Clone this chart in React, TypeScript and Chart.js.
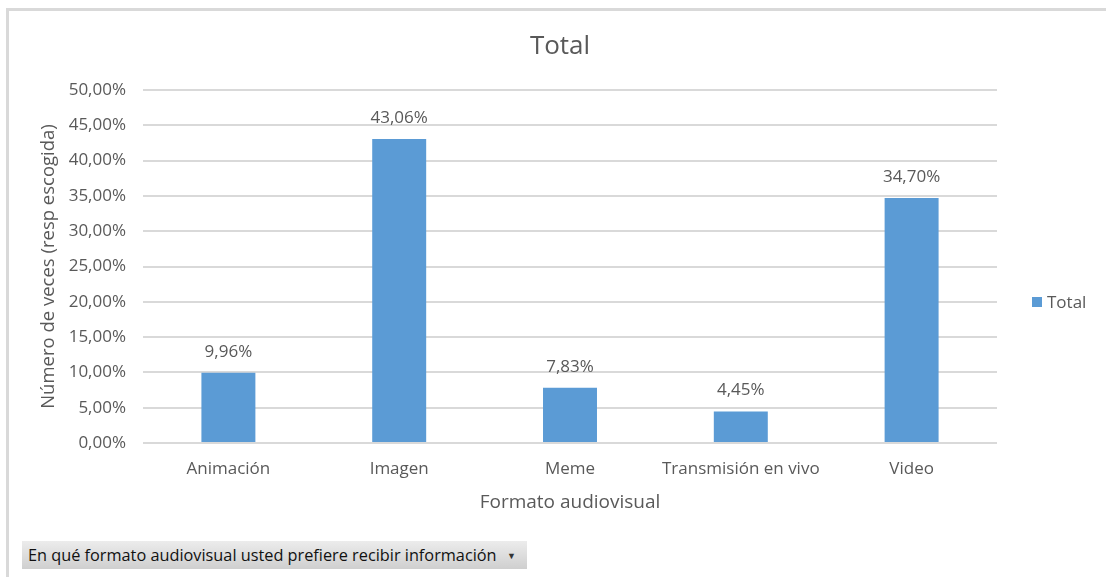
import React, { useEffect, useRef } from "react";
import { Chart, registerables } from "chart.js";

Chart.register(...registerables);

const categories = ["Animación", "Imagen", "Meme", "Transmisión en vivo", "Video"];
const totalValues = [9.96, 43.06, 7.83, 4.45, 34.7];
const seriesName = "Total";
const chartTitle = "Total";
const xTitle = "Formato audiovisual";
const yTitle = "Número de veces (resp escogida)";
const filterLabel = "En qué formato audiovisual usted prefiere recibir información";

const FONT = "'Open Sans', 'Noto Sans', sans-serif";
const GRAY = "#595959";
const BAR = "#5b9bd5";

const fmt = (v: number) => v.toFixed(2).replace(".", ",") + "%";

const dataLabelPlugin = {
  id: "dataLabels",
  afterDatasetsDraw(chart: any) {
    const ctx = chart.ctx;
    const meta = chart.getDatasetMeta(0);
    ctx.save();
    ctx.fillStyle = GRAY;
    ctx.font = `17px ${FONT}`;
    ctx.textAlign = "center";
    ctx.textBaseline = "middle";
    meta.data.forEach((el: any, i: number) => {
      ctx.fillText(fmt(chart.data.datasets[0].data[i]), el.x, el.y - 21);
    });
    ctx.restore();
  },
};

export default function App() {
  const ref = useRef<HTMLCanvasElement>(null);
  useEffect(() => {
    document.body.style.margin = "0";
    const chart = new Chart(ref.current!, {
      type: "bar",
      data: {
        labels: categories,
        datasets: [
          {
            label: seriesName,
            data: totalValues,
            backgroundColor: BAR,
            barPercentage: 0.316,
            categoryPercentage: 1,
          },
        ],
      },
      plugins: [dataLabelPlugin],
      options: {
        animation: false,
        responsive: false,
        maintainAspectRatio: false,
        layout: { padding: { top: 31, left: 14, right: 0, bottom: 59 } },
        plugins: {
          legend: { display: false },
          tooltip: { enabled: false },
          title: {
            display: true,
            text: chartTitle,
            color: GRAY,
            font: { family: FONT, size: 26, weight: "normal" },
            padding: { top: 0, bottom: 27.8 },
          },
        },
        scales: {
          x: {
            grid: { display: false },
            border: { display: false },
            ticks: { color: GRAY, font: { family: FONT, size: 17 }, padding: 8, maxRotation: 0 },
            title: {
              display: true,
              text: xTitle,
              color: GRAY,
              font: { family: FONT, size: 19 },
              padding: 4,
            },
            afterFit(s: any) {
              s.height = 75;
            },
          },
          y: {
            min: 0,
            max: 50,
            ticks: {
              stepSize: 5,
              color: GRAY,
              font: { family: FONT, size: 17 },
              padding: 17,
              callback: (v: any) => fmt(Number(v)),
            },
            grid: { color: "#d9d9d9", lineWidth: 2, drawTicks: false },
            border: { display: false },
            title: {
              display: true,
              text: yTitle,
              color: GRAY,
              font: { family: FONT, size: 18.5 },
              padding: 24,
            },
            afterFit(s: any) {
              s.width = 129;
            },
          },
          legendSpace: {
            type: "linear",
            position: "right",
            display: true,
            ticks: { display: false },
            grid: { display: false, drawTicks: false },
            border: { display: false },
            afterFit(s: any) {
              s.width = 109;
            },
          },
        },
      },
    } as any);
    return () => chart.destroy();
  }, []);

  return (
    <div
      style={{
        position: "fixed",
        left: 0,
        top: 0,
        width: 1106,
        height: 577,
        background: "#fff",
        overflow: "hidden",
        fontFamily: FONT,
      }}
    >
      <div
        style={{
          position: "absolute",
          left: 6,
          top: 8,
          width: 1200,
          height: 700,
          borderLeft: "3px solid #d9d9d9",
          borderTop: "3px solid #d9d9d9",
        }}
      />
      <canvas ref={ref} width={1106} height={577} style={{ position: "absolute", left: 0, top: 0 }} />
      <div
        style={{
          position: "absolute",
          left: 1032,
          top: 290,
          display: "flex",
          alignItems: "center",
          color: GRAY,
          fontSize: 17,
        }}
      >
        <span style={{ width: 10, height: 10, background: BAR, display: "inline-block", marginRight: 5 }} />
        <span>{seriesName}</span>
      </div>
      <div
        style={{
          position: "absolute",
          left: 22,
          top: 541,
          width: 505,
          height: 28,
          boxSizing: "border-box",
          background: "linear-gradient(#ececec, #cfcfcf)",
          color: "#111",
          fontSize: 16.3,
          display: "flex",
          alignItems: "center",
          paddingLeft: 6,
        }}
      >
        <span>{filterLabel}</span>
        <span style={{ position: "absolute", right: 11, fontSize: 9, color: "#333" }}>▼</span>
      </div>
    </div>
  );
}
